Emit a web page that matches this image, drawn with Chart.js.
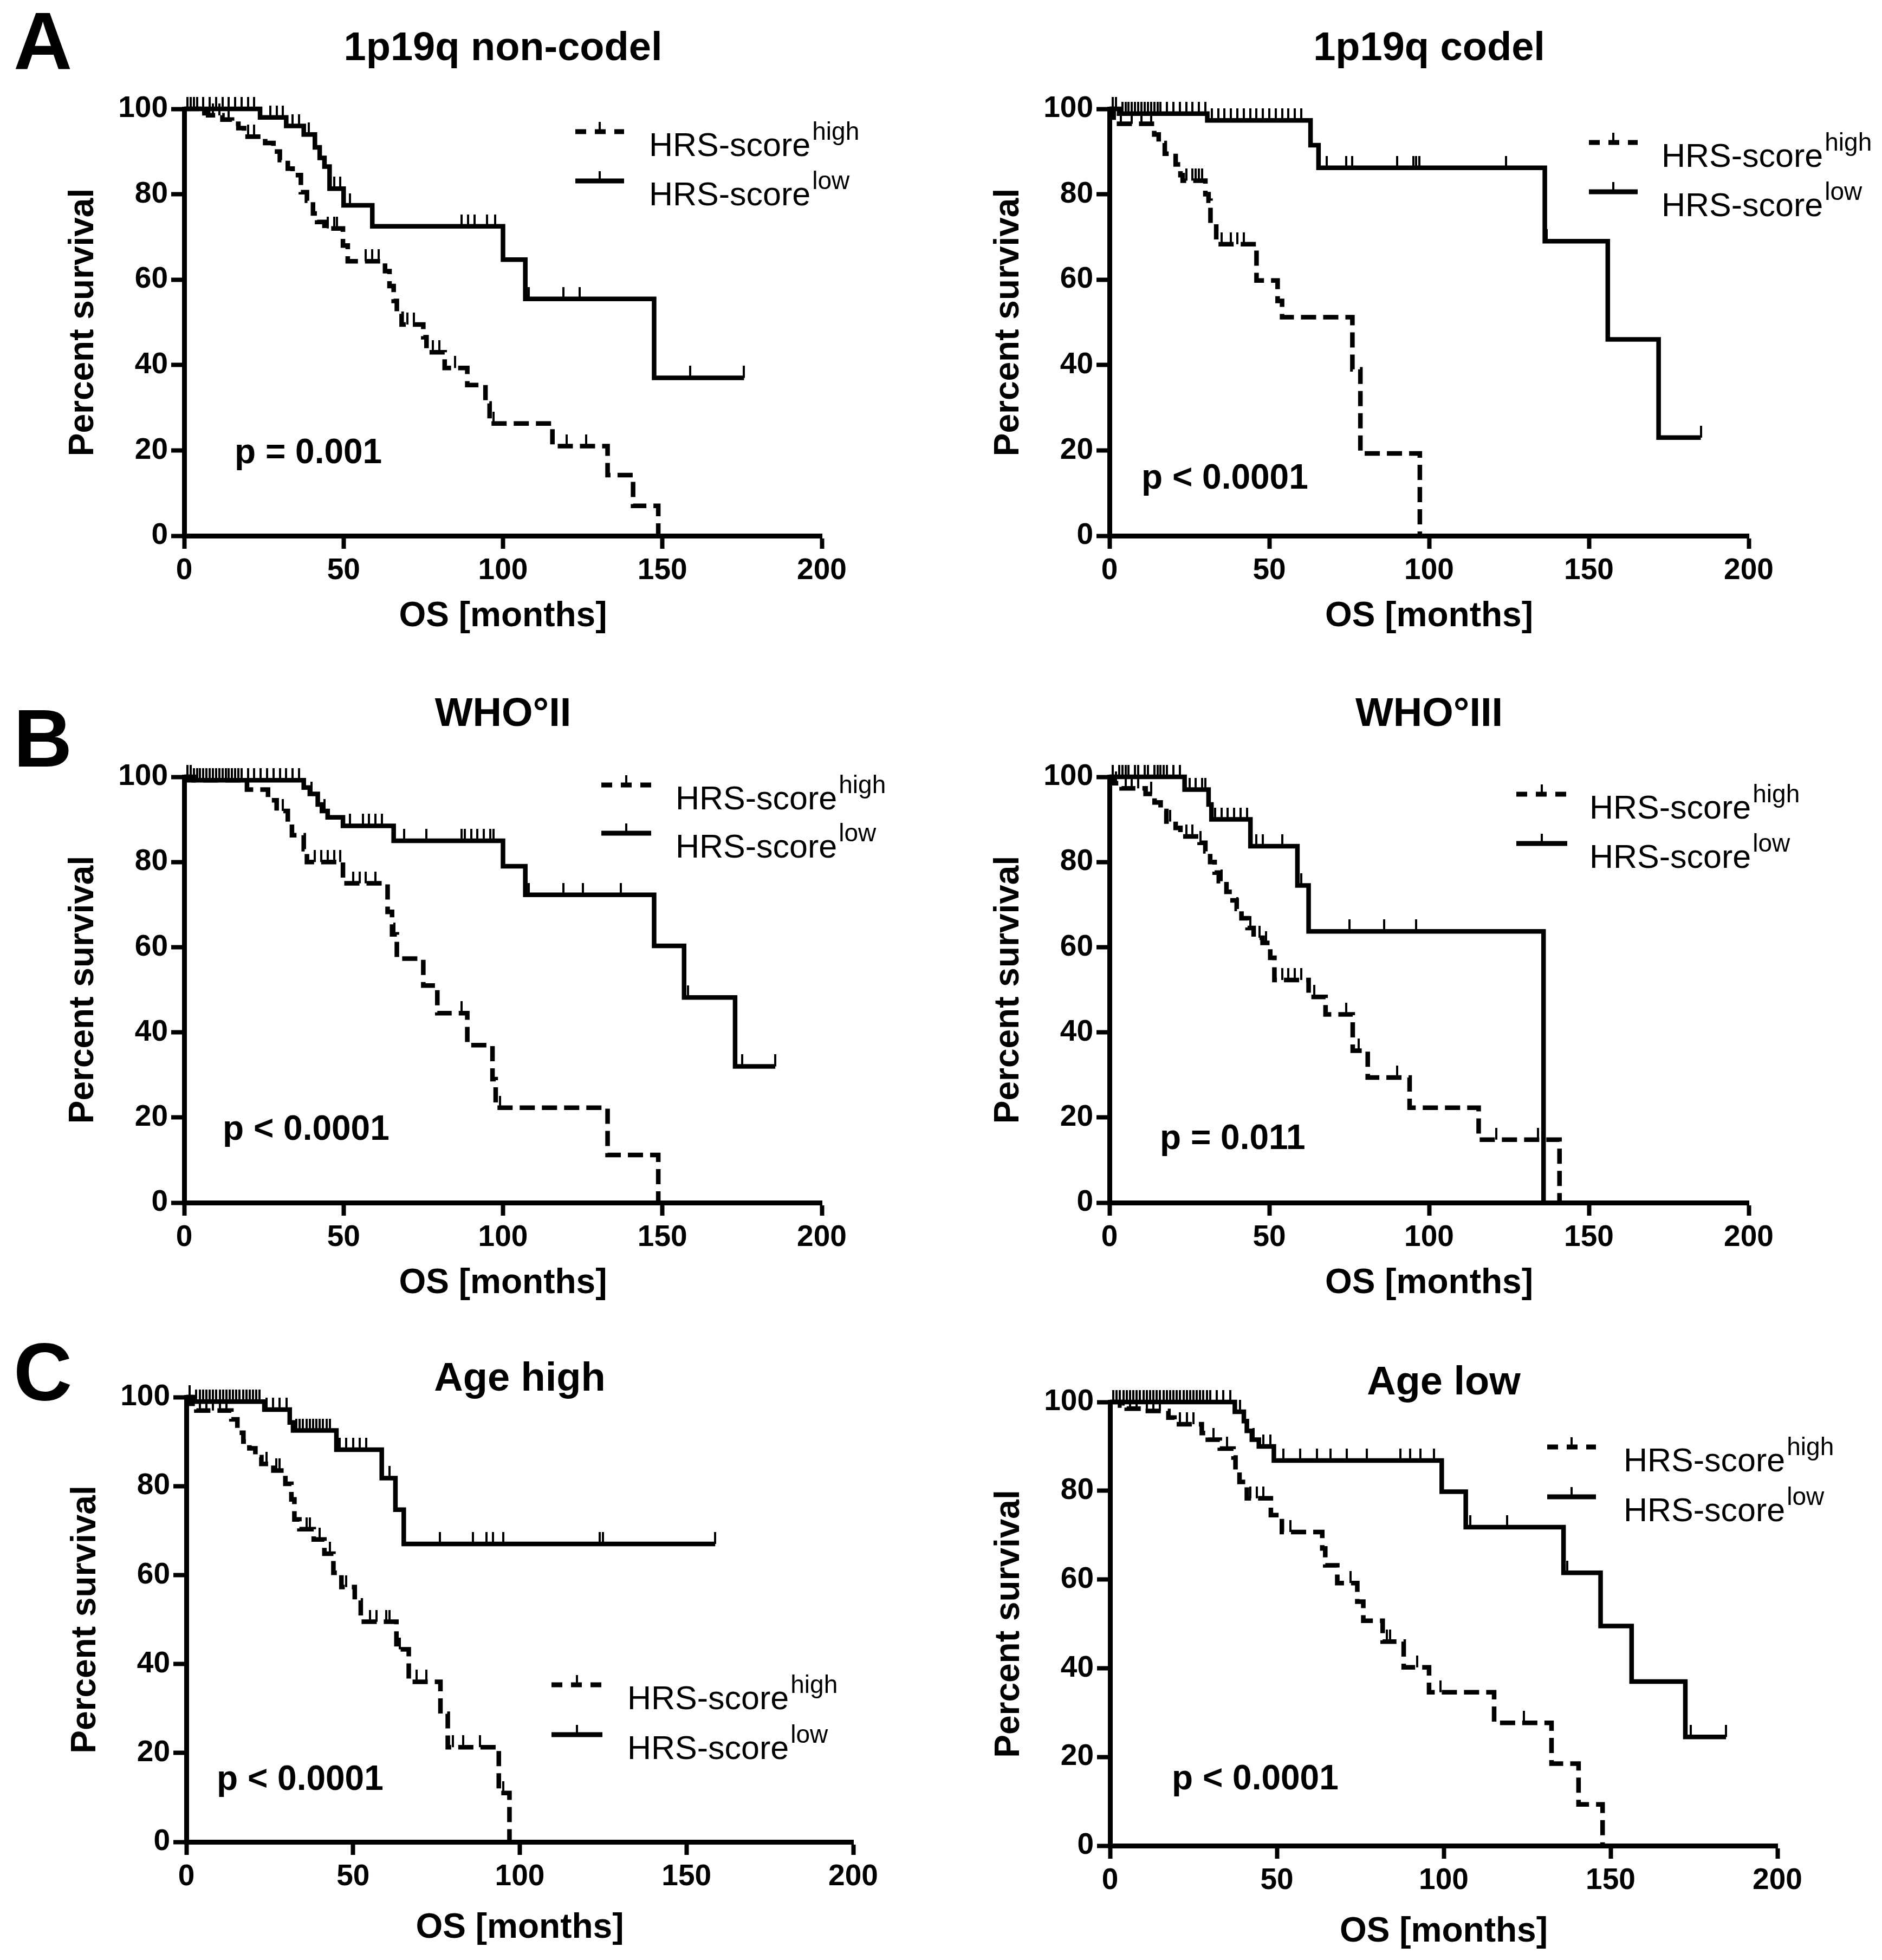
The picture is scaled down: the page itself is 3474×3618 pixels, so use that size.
<!DOCTYPE html>
<html>
<head>
<meta charset="utf-8">
<script src="https://cdn.jsdelivr.net/npm/chart.js@4.4.0/dist/chart.umd.min.js"></script>
<style>
html,body{margin:0;padding:0;background:#fff;}
#wrap{position:relative;width:3474px;height:3618px;background:#fff;overflow:hidden;}
#wrap canvas{position:absolute;}
</style>
</head>
<body>
<div id="wrap"></div>
<script>
// ---------------- DATA ----------------
const xTicks = [0, 50, 100, 150, 200];
const yTicks = [0, 20, 40, 60, 80, 100];
const panelTitles = ['1p19q non-codel', '1p19q codel', 'WHO°II', 'WHO°III', 'Age high', 'Age low'];
const pValues = ['p = 0.001', 'p < 0.0001', 'p < 0.0001', 'p = 0.011', 'p < 0.0001', 'p < 0.0001'];
const panelLetters = ['A', '', 'B', '', 'C', ''];
const seriesBase = ['HRS-score', 'HRS-score'];
const seriesSup = ['high', 'low'];
const xTitle = 'OS [months]';
const yTitle = 'Percent survival';

// 1p19q non-codel
const nonCodelLowT = [0, 23.8, 32, 37.5, 41, 42.5, 44, 45.6, 50, 59, 100, 107, 147.4, 175.6];
const nonCodelLowS = [100, 98, 96, 94, 91, 88.5, 86.5, 81.3, 77.4, 72.5, 64.7, 55.5, 37, 37];
const nonCodelLowCens = [2, 4, 6, 8, 10, 12, 14, 16, 18, 20, 22, 27, 29, 31, 34, 36, 39, 47, 49, 52, 87, 89, 91, 95, 97.6, 108, 119, 124, 158.7, 175.6];
const nonCodelHighT = [0, 4.7, 7.5, 12, 15, 17, 18.8, 25.4, 28, 30, 32.5, 34, 36.6, 38.5, 40.4, 41.7, 44, 49.8, 51.3, 63, 64.4, 65.7, 66.7, 68.2, 75, 76, 81.7, 88.8, 94.5, 95.8, 115.5, 132.8, 140.8, 148.7];
const nonCodelHighS = [100, 99, 98.5, 97.5, 96.5, 95.5, 93.5, 92, 90, 88, 86, 84.5, 80.5, 78.5, 75.5, 73.5, 72, 68, 64.3, 62, 58.5, 55, 52, 49.5, 46.5, 43, 39.3, 35.3, 31, 26.3, 21, 14.2, 7, 0];
const nonCodelHighCens = [1, 3, 6, 9, 11, 14, 20, 22, 45, 47, 48, 57, 59, 61, 70, 72, 78, 80, 85, 97, 120, 126];

// 1p19q codel
const codelLowT = [0, 3, 30.6, 62.9, 65.4, 136.2, 155.9, 171.8, 185];
const codelLowS = [100, 98.9, 97.3, 91.5, 86.2, 69, 46, 23, 23];
const codelLowCens = [1, 2, 4, 5, 6, 7, 8, 9, 10, 11, 12, 13, 14, 15, 16, 18, 20, 22, 24, 26, 28, 30, 32, 34, 36, 38, 40, 42, 44, 46, 48, 50, 52, 54, 56, 58, 60, 68, 74, 76, 90, 95, 96, 97, 124, 136.8, 185];
const codelHighT = [0, 1.3, 14, 15.4, 17.3, 20.7, 22.2, 22.9, 30, 31, 31.6, 33.4, 46, 52.6, 54, 76, 78.5, 97.1];
const codelHighS = [100, 96.5, 94, 92, 89.5, 87, 84.5, 83.2, 80, 78.5, 73, 68.3, 59.8, 55, 51.2, 39, 19.3, 0];
const codelHighCens = [3.5, 7, 10, 13, 24, 26, 27, 28, 29, 35, 38, 40, 42];

// WHO grade II
const who2LowT = [0, 3, 37.5, 39.4, 41.9, 43.2, 45, 49.8, 65.7, 100, 107, 147.4, 156.8, 172.8, 185.4];
const who2LowS = [100, 99.2, 97.5, 96, 93.5, 92, 90.5, 88.5, 85, 79, 72.3, 60.3, 48.2, 32, 32];
const who2LowCens = [1, 2, 4, 5, 6, 7, 8, 9, 10, 11, 12, 13, 14, 15, 16, 18, 20, 22, 24, 26, 28, 30, 32, 34, 36, 40, 44, 52, 56, 58, 60, 62, 69, 76, 87, 88, 90, 92, 94, 96, 97, 108, 119, 125, 137, 158, 175, 185.4];
const who2HighT = [0, 1.5, 19.7, 26.3, 29, 32.5, 33.8, 37.5, 38.5, 49.8, 63.8, 65.2, 66.7, 75, 79.4, 88.8, 96.7, 97.7, 132.8, 148.7];
const who2HighS = [100, 99.2, 97, 94.5, 92, 89, 86.3, 83, 80, 75, 68.3, 63, 57.3, 51, 44.5, 37, 29, 22.3, 11.2, 0];
const who2HighCens = [3, 5, 7, 9, 11, 13, 15, 17, 31, 41, 43, 45, 47, 49, 53, 55, 57, 60, 66, 87, 99];

// WHO grade III
const who3LowT = [0, 23.5, 31, 31.9, 44.1, 58.8, 62.3, 135.8];
const who3LowS = [100, 97, 93.5, 90, 83.7, 74.5, 63.7, 0];
const who3LowCens = [1, 3, 4, 5, 6, 8, 9, 11, 12, 14, 15, 16, 17, 18, 20, 22, 25, 27, 29, 30, 33, 35, 37, 39, 41, 43, 46, 48, 54, 60, 75, 86, 96];
const who3HighT = [0, 1, 3.8, 11.3, 14.1, 16, 17.8, 20.7, 22.2, 28.2, 30, 31.5, 32.9, 34.2, 36.6, 38.5, 39.8, 41.3, 43.2, 45.1, 47.9, 50.3, 51.6, 62.3, 67.6, 76.1, 80.8, 93.9, 115.5, 140.8];
const who3HighS = [100, 98.5, 97.3, 96, 94, 92, 89.5, 88, 86, 84.5, 82.5, 80, 77.5, 75.5, 73, 71, 69, 66.8, 64.5, 62.2, 61, 57.5, 52.3, 48.3, 44.2, 35.7, 29.4, 22.3, 14.8, 0];
const who3HighCens = [2, 5, 7, 9, 13, 19, 24, 26, 28.5, 35, 40, 44, 47, 49, 54, 56, 58, 60, 64, 74, 78, 90, 121, 134];

// Age high
const ageHighLowT = [0, 2, 23.4, 31, 32, 45, 58.6, 62.7, 65.2, 158.6];
const ageHighLowS = [100, 99, 97.2, 94.3, 92.5, 88.2, 81.8, 74.7, 67, 67];
const ageHighLowCens = [1, 3, 4, 5, 6, 7, 8, 9, 10, 11, 12, 13, 14, 15, 16, 17, 18, 19, 20, 21, 22, 24, 26, 28, 30, 33, 34, 35, 36, 37, 38, 39, 40, 41, 42, 43, 46, 48, 50, 52, 54, 61, 76, 86, 90, 92, 95, 124, 125, 158.6];
const ageHighHighT = [0, 1.5, 3, 13.5, 15.3, 17.1, 18.9, 20.7, 22.5, 26.1, 29.7, 31.5, 32.4, 33.9, 38.2, 41.4, 44.1, 46.5, 50.5, 52.3, 63, 66.7, 76.2, 78.4, 93.7, 96.9];
const ageHighHighS = [100, 98.5, 97, 95, 92, 90, 88.5, 86.5, 85, 83.5, 80.5, 77, 72.5, 70.3, 68, 64.8, 60.5, 57.3, 54.3, 49.5, 43.3, 36, 28.8, 21.3, 11, 0];
const ageHighHighCens = [4, 6, 8, 10, 12, 24, 27, 28, 36, 37, 40, 43, 48, 55, 57, 60, 61, 64, 69, 72, 80, 83, 88, 95];

// Age low
const ageLowLowT = [0, 37.4, 40.1, 41, 42.5, 44.6, 49.1, 99.4, 106.6, 135.9, 147, 156.3, 172.4, 184.6];
const ageLowLowS = [100, 97.8, 95.7, 93.5, 91.5, 90, 86.8, 79.8, 71.8, 61.5, 49.5, 37, 24.5, 24.5];
const ageLowLowCens = [2, 3, 4, 5, 6, 7, 8, 9, 10, 11, 12, 13, 14, 15, 16, 17, 18, 19, 20, 21, 22, 23, 24, 25, 26, 27, 28, 29, 30, 32, 34, 36, 39, 43, 46, 48, 52, 57, 62, 66, 71, 77, 87, 90, 93, 97, 108, 119, 137, 174, 184.6];
const ageLowHighT = [0, 3, 5, 9.4, 17.5, 19.3, 27.5, 29.3, 32.9, 37, 37.6, 38.8, 41, 48.2, 51.5, 63.6, 64.5, 68.1, 74.1, 75.9, 81.7, 88, 95.6, 115.1, 132.3, 140.4, 147.6];
const ageLowHighS = [100, 99.2, 98.5, 98, 96.5, 95, 93, 91.5, 89.5, 87.5, 84.5, 82, 78.3, 74.5, 70.7, 67, 63.2, 59.2, 55, 50.7, 46, 40.2, 34.6, 27.7, 18.5, 9.3, 0];
const ageLowHighCens = [1, 2, 4, 6, 8, 11, 13, 15, 21, 23, 25, 31, 35, 42, 44, 46, 54, 72, 83, 84, 92, 99, 124];

// ---------------- LAYOUT (pixels, styles) ----------------
const FONT = "'Liberation Sans', Arial, Helvetica, sans-serif";
const layouts = [
  {cx: 0,    cy: 0,    cw: 1737, ch: 1230, L: 340, R: 1517, T: 201, B: 989, xH: 188, titleY: 111, letterX: 25, letterY: 127, legX1: 1062, legX2: 1152, legY: [243, 334], legTX: 1198, pX: 433, pY: 837},
  {cx: 1737, cy: 0,    cw: 1737, ch: 1230, L: 311, R: 1491, T: 201, B: 989, xH: 188, titleY: 111, letterX: 0,  letterY: 0,   legX1: 1196, legX2: 1286, legY: [263, 354], legTX: 1330, pX: 370, pY: 884},
  {cx: 0,    cy: 1230, cw: 1737, ch: 1210, L: 340, R: 1517, T: 204, B: 990, xH: 188, titleY: 110, letterX: 25, letterY: 185, legX1: 1110, legX2: 1202, legY: [219, 308], legTX: 1247, pX: 411, pY: 856},
  {cx: 1737, cy: 1230, cw: 1737, ch: 1210, L: 311, R: 1491, T: 204, B: 990, xH: 188, titleY: 110, letterX: 0,  letterY: 0,   legX1: 1062, legX2: 1156, legY: [236, 327], legTX: 1197, pX: 404, pY: 873},
  {cx: 0,    cy: 2440, cw: 1737, ch: 1178, L: 344, R: 1575, T: 139, B: 960, xH: 198, titleY: 127, letterX: 25, letterY: 145, legX1: 1018, legX2: 1112, legY: [670, 762], legTX: 1158, pX: 400, pY: 846},
  {cx: 1737, cy: 2440, cw: 1737, ch: 1178, L: 312, R: 1544, T: 148, B: 967, xH: 198, titleY: 134, letterX: 0,  letterY: 0,   legX1: 1119, legX2: 1209, legY: [231, 323], legTX: 1260, pX: 426, pY: 845}
];

const panelData = [
  [nonCodelHighT, nonCodelHighS, nonCodelHighCens, nonCodelLowT, nonCodelLowS, nonCodelLowCens],
  [codelHighT, codelHighS, codelHighCens, codelLowT, codelLowS, codelLowCens],
  [who2HighT, who2HighS, who2HighCens, who2LowT, who2LowS, who2LowCens],
  [who3HighT, who3HighS, who3HighCens, who3LowT, who3LowS, who3LowCens],
  [ageHighHighT, ageHighHighS, ageHighHighCens, ageHighLowT, ageHighLowS, ageHighLowCens],
  [ageLowHighT, ageLowHighS, ageLowHighCens, ageLowLowT, ageLowLowS, ageLowLowCens]
];

const LINE_W = 8.5;
const AXIS_W = 9;
const DASH = [28, 13];
const CENS_LEN = 22;
const Y_SCALE_W = 224;

function makeTickImage() {
  const c = document.createElement('canvas');
  c.width = 4; c.height = CENS_LEN * 2;
  const g = c.getContext('2d');
  g.fillStyle = '#000';
  g.fillRect(0, 0, 4, CENS_LEN);
  return c;
}
const tickImg = makeTickImage();

function toPoints(T, S) { return T.map((t, i) => ({x: t, y: S[i]})); }
function survAt(T, S, t) {
  let v = S[0];
  for (let i = 0; i < T.length; i++) { if (T[i] <= t) v = S[i]; }
  return v;
}
function censPoints(T, S, C) { return C.map(t => ({x: t, y: survAt(T, S, t)})); }

const kmDecor = {
  id: 'kmDecor',
  afterDraw(chart, args, o) {
    const ctx = chart.ctx;
    const ca = chart.chartArea;
    ctx.save();
    ctx.fillStyle = '#000';
    ctx.strokeStyle = '#000';
    // title
    ctx.font = 'bold 74px ' + FONT;
    ctx.textAlign = 'center';
    ctx.textBaseline = 'alphabetic';
    ctx.fillText(o.title, (ca.left + ca.right) / 2, o.titleY);
    // panel letter
    if (o.letter) {
      ctx.font = 'bold 150px ' + FONT;
      ctx.textAlign = 'left';
      ctx.fillText(o.letter, o.letterX, o.letterY);
    }
    // p-value
    ctx.font = 'bold 64px ' + FONT;
    ctx.textAlign = 'left';
    ctx.textBaseline = 'middle';
    ctx.fillText(o.p, o.pX, o.pY);
    // legend
    ctx.textBaseline = 'alphabetic';
    for (let i = 0; i < 2; i++) {
      const y = o.legY[i];
      ctx.beginPath();
      ctx.lineWidth = 9;
      ctx.lineCap = 'butt';
      ctx.setLineDash(i === 0 ? [20, 16] : []);
      ctx.moveTo(o.legX1, y);
      ctx.lineTo(o.legX2, y);
      ctx.stroke();
      ctx.setLineDash([]);
      const mid = (o.legX1 + o.legX2) / 2;
      ctx.fillRect(mid - 2, y - 18, 4, 18);
      ctx.font = '61px ' + FONT;
      ctx.fillText(o.names[i], o.legTX, y + 45);
      const w = ctx.measureText(o.names[i]).width;
      ctx.font = '46px ' + FONT;
      ctx.fillText(o.sups[i], o.legTX + w + 3, y + 15);
    }
    ctx.restore();
  }
};

const wrap = document.getElementById('wrap');

layouts.forEach((lay, k) => {
  const [hT, hS, hC, lT, lS, lC] = panelData[k];
  const cv = document.createElement('canvas');
  cv.width = lay.cw; cv.height = lay.ch;
  cv.style.left = lay.cx + 'px'; cv.style.top = lay.cy + 'px';
  cv.style.width = lay.cw + 'px'; cv.style.height = lay.ch + 'px';
  wrap.appendChild(cv);

  const tickFont = {family: FONT, size: 55, weight: 'bold'};
  const titleFont = {family: FONT, size: 64, weight: 'bold'};

  new Chart(cv.getContext('2d'), {
    type: 'line',
    data: {
      datasets: [
        {label: seriesBase[0] + seriesSup[0], data: toPoints(hT, hS), stepped: true, borderColor: '#000', borderWidth: LINE_W, borderDash: DASH, pointRadius: 0, fill: false, clip: false, order: 2},
        {label: seriesBase[1] + seriesSup[1], data: toPoints(lT, lS), stepped: true, borderColor: '#000', borderWidth: LINE_W, pointRadius: 0, fill: false, clip: false, order: 2},
        {label: 'censored high', data: censPoints(hT, hS, hC), showLine: false, pointStyle: tickImg, pointRadius: 3, clip: false, order: 1},
        {label: 'censored low', data: censPoints(lT, lS, lC), showLine: false, pointStyle: tickImg, pointRadius: 3, clip: false, order: 1}
      ]
    },
    options: {
      responsive: false,
      animation: false,
      devicePixelRatio: 1,
      events: [],
      layout: {padding: {left: lay.L - Y_SCALE_W, right: lay.cw - lay.R, top: lay.T, bottom: lay.ch - lay.B - lay.xH}},
      plugins: {
        legend: {display: false},
        tooltip: {enabled: false},
        title: {display: false},
        kmDecor: {title: panelTitles[k], titleY: lay.titleY, letter: panelLetters[k], letterX: lay.letterX, letterY: lay.letterY,
                  p: pValues[k], pX: lay.pX, pY: lay.pY, legX1: lay.legX1, legX2: lay.legX2, legY: lay.legY, legTX: lay.legTX,
                  names: seriesBase, sups: seriesSup}
      },
      scales: {
        x: {
          type: 'linear', min: xTicks[0], max: xTicks[xTicks.length - 1],
          afterBuildTicks: s => { s.ticks = xTicks.map(v => ({value: v})); },
          afterFit: s => { s.height = lay.xH; s.paddingLeft = 0; s.paddingRight = 0; },
          grid: {drawOnChartArea: false, drawTicks: true, tickLength: 24, tickWidth: 8, tickColor: '#000'},
          border: {display: true, width: AXIS_W, color: '#000'},
          ticks: {font: tickFont, color: '#000', padding: 8, maxRotation: 0, autoSkip: false},
          title: {display: true, text: xTitle, font: titleFont, color: '#000', padding: 0}
        },
        y: {
          type: 'linear', min: yTicks[0], max: yTicks[yTicks.length - 1],
          afterBuildTicks: s => { s.ticks = yTicks.map(v => ({value: v})); },
          afterFit: s => { s.width = Y_SCALE_W; },
          grid: {drawOnChartArea: false, drawTicks: true, tickLength: 24, tickWidth: 8, tickColor: '#000'},
          border: {display: true, width: AXIS_W, color: '#000'},
          ticks: {font: tickFont, color: '#000', padding: 6, autoSkip: false},
          title: {display: true, text: yTitle, font: titleFont, color: '#000', padding: 0}
        }
      }
    },
    plugins: [kmDecor]
  });
});
</script>
</body>
</html>
